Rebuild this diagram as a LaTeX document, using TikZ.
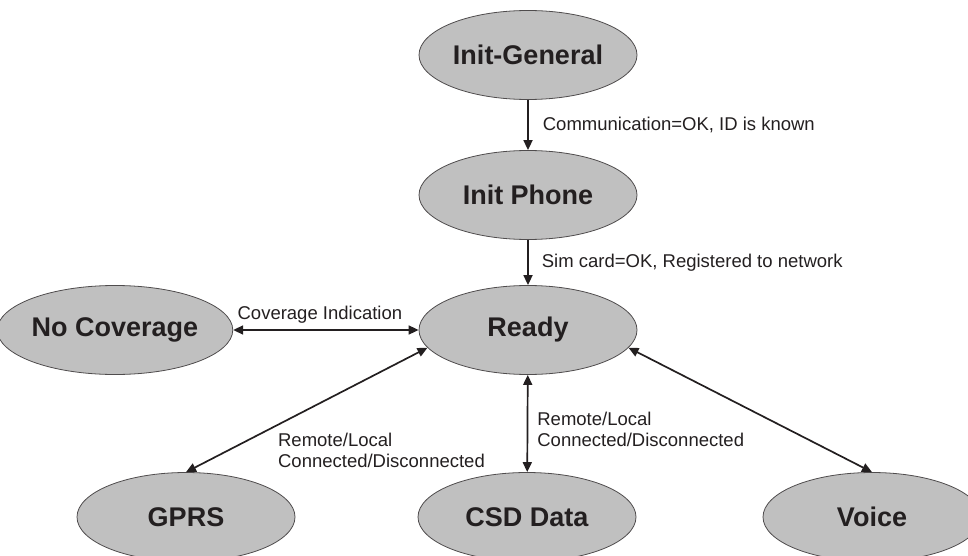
\documentclass[tikz,border=0pt]{standalone}
\usepackage{fontspec}
\setmainfont{Liberation Sans}
\usetikzlibrary{shapes.geometric,arrows.meta}
\definecolor{stategray}{RGB}{192,192,192}
\definecolor{inkdark}{RGB}{35,31,32}
\begin{document}
\begin{tikzpicture}
[x=1pt,y=-1pt,>={Triangle[length=10pt,width=9pt]},
 state/.style={ellipse,draw=inkdark!80,fill=stategray,line width=.8pt,minimum width=218pt,minimum height=89pt,inner sep=0pt,text=inkdark,font=\fontsize{27}{30}\selectfont\bfseries},
 lbl/.style={inner sep=0pt,align=left,text=inkdark,font=\fontsize{18.5}{21}\selectfont},
 link/.style={line width=1.7pt,draw=inkdark}]
\def \midx {528}
\def \lowy {517} % row of the three call states
\useasboundingbox (0,0) rectangle (968,556);
\node[state] (initgen) at (\midx,55) {Init-General};
\node[state] (initphone) at (\midx,195) {Init Phone};
\node[state] (ready) at (\midx,330) {Ready};
\node[state] (nocov) at (115,330) {No Coverage};
\foreach \name/\x/\txt in {gprs/186/GPRS, csd/527/CSD Data, voice/872/Voice}
{
  \node[state] (\name) at (\x,\lowy) {\txt};
}
\draw[link,->] (initgen) -- (initphone) node[lbl,midway,anchor=west,xshift=14pt] (lblcomm) {Communication=OK, ID is known};
\draw[link,->] (initphone) -- (ready) node[lbl,midway,anchor=west,xshift=13pt] (lblsim) {Sim card=OK, Registered to network};
\draw[link,<->] (nocov) -- (ready) node[lbl,midway,above=6pt,xshift=-6pt] (lblcov) {Coverage Indication};
\draw[link,<->] (ready.190) -- (gprs.north) node[lbl,pos=0.68,anchor=north west,xshift=14pt] (lblgprs) {Remote/Local\\Connected/Disconnected};
\draw[link,<->] (ready) -- (csd) node[lbl,midway,anchor=west,xshift=9pt,yshift=-6pt] (lblcsd) {Remote/Local\\Connected/Disconnected};
\draw[link,<->] (ready.-10) -- (voice.north);
\end{tikzpicture}
\end{document}
